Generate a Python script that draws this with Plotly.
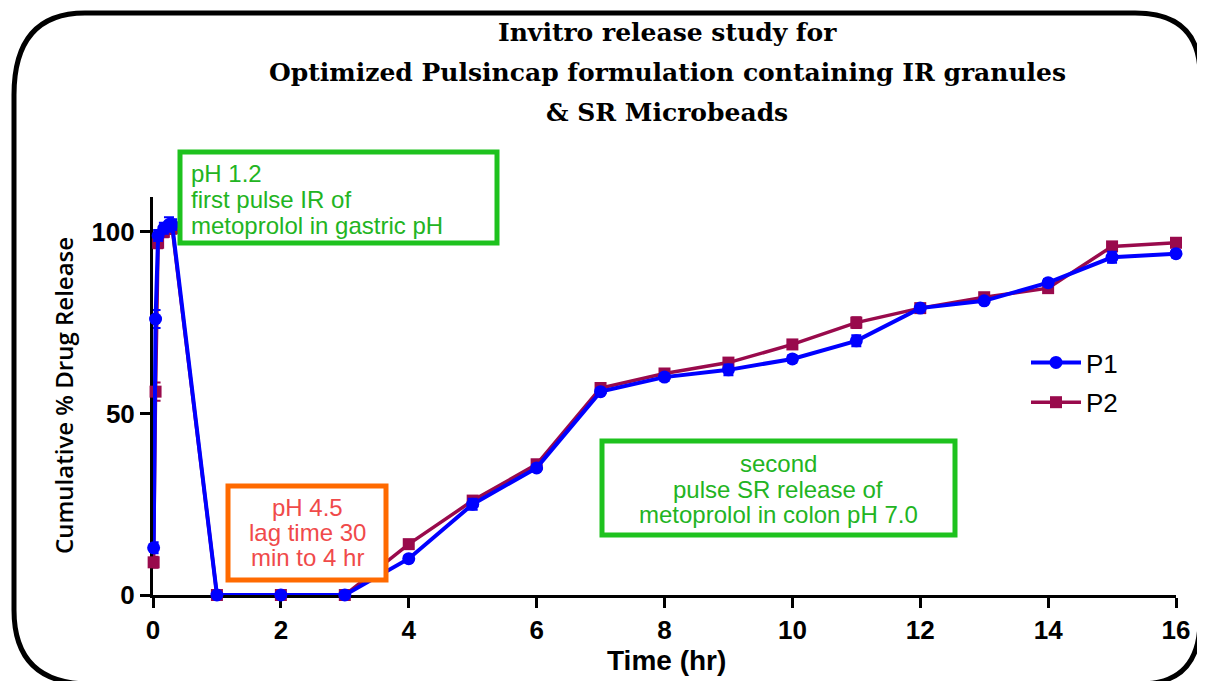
import plotly.graph_objects as go

# ---------------- data ----------------
time_hr = [0.01, 0.04, 0.08, 0.17, 0.25, 0.3, 1, 2, 3, 4, 5, 6, 7, 8, 9, 10, 11, 12, 13, 14, 15, 16]
p1_release = [13, 76, 99, 101, 102, 102, 0, 0, 0, 10, 25, 35, 56, 60, 62, 65, 70, 79, 81, 86, 93, 94]
p1_error = [1.5, 2.5, 1.5, 1.5, 2, 1.5, 0, 0, 0, 0.8, 1.5, 0.8, 0.8, 1, 1.5, 1, 1.5, 0.8, 0.8, 1, 1.5, 1]
p2_release = [9, 56, 97, 100, 101, 101, 0, 0, 0, 14, 26, 36, 57, 61, 64, 69, 75, 79, 82, 84.5, 96, 97]
p2_error = [1.5, 2.5, 1.5, 1.5, 1.5, 1.5, 0, 0, 0, 0.8, 0.8, 0.8, 0.8, 0.8, 0.8, 0.8, 1.5, 0.8, 0.8, 1, 0.8, 0.8]
series_names = ["P1", "P2"]
x_ticks = [0, 2, 4, 6, 8, 10, 12, 14, 16]
y_ticks = [0, 50, 100]
title_lines = ["Invitro release study for",
               "Optimized Pulsincap formulation containing IR granules",
               "& SR Microbeads"]
note_ir_lines = ["pH 1.2", "first pulse IR of", "metoprolol in gastric pH"]
note_lag_lines = ["pH 4.5", "lag time 30", "min to 4 hr"]
note_sr_lines = ["second", "pulse SR release of", "metoprolol in colon pH 7.0"]

# ---------------- layout helpers (page pixel -> paper) ----------------
W, H = 1205, 681
OFF = 8  # page body margin
L, T = 153 - OFF, 197 - OFF
R = W - (1176 - OFF)
B = H - (595 - OFF)


def px(x):
    return (x - OFF - L) / (W - L - R)


def py(y):
    return (H - B - (y - OFF)) / (H - T - B)


BLUE = "#0000ff"
MAROON = "#990a4c"
GREEN_LINE = "#1ec21e"
GREEN_TEXT = "#22b422"
ORANGE = "#ff6a00"
RED_TEXT = "#f04a4a"

fig = go.Figure()

fig.add_trace(go.Scatter(
    x=time_hr, y=p2_release, name=series_names[1], mode="lines+markers",
    line=dict(color=MAROON, width=3.5),
    marker=dict(symbol="square", size=12, color=MAROON),
    error_y=dict(type="data", array=p2_error, color=MAROON, thickness=2, width=5),
    cliponaxis=False, legendrank=2, legendgroup="b",
))
fig.add_trace(go.Scatter(
    x=time_hr, y=p1_release, name=series_names[0], mode="lines+markers",
    line=dict(color=BLUE, width=4),
    marker=dict(symbol="circle", size=13, color=BLUE),
    error_y=dict(type="data", array=p1_error, color=BLUE, thickness=2, width=5),
    cliponaxis=False, legendrank=1, legendgroup="a",
))

axis_font = dict(family="Liberation Sans, Arial", size=26, color="black", weight="bold")

fig.update_xaxes(
    range=[0, 16], tickvals=x_ticks, ticktext=[str(v) for v in x_ticks],
    showline=True, linecolor="black", linewidth=3,
    ticks="outside", ticklen=10, tickwidth=3, tickcolor="black",
    showgrid=False, zeroline=False, tickfont=axis_font, layer="below traces",
)
fig.update_yaxes(
    range=[0, 109.6], tickvals=y_ticks, ticktext=[str(v) for v in y_ticks],
    showline=True, linecolor="black", linewidth=3,
    ticks="outside", ticklen=10, tickwidth=3, tickcolor="black",
    showgrid=False, zeroline=False, tickfont=axis_font, layer="below traces",
)

shapes = []
# rounded outer frame
frame = (f"M {px(14)},{py(95)} Q {px(14)},{py(13)} {px(85)},{py(13)} "
         f"L {px(1135)},{py(13)} Q {px(1200)},{py(13)} {px(1200)},{py(75)} "
         f"L {px(1200)},{py(620)} Q {px(1200)},{py(684)} {px(1140)},{py(684)} "
         f"L {px(90)},{py(684)} Q {px(14)},{py(684)} {px(14)},{py(610)} Z")
shapes.append(dict(type="path", xref="paper", yref="paper", path=frame,
                   line=dict(color="black", width=5), layer="below"))
# annotation boxes
for (x0, y0, x1, y1, col) in [(180, 152, 497, 243, GREEN_LINE),
                              (228, 486, 386, 580, ORANGE),
                              (602, 441, 955, 535, GREEN_LINE)]:
    shapes.append(dict(type="rect", xref="paper", yref="paper",
                       x0=px(x0), x1=px(x1), y0=py(y1), y1=py(y0),
                       line=dict(color=col, width=5), fillcolor="white", layer="above"))

annotations = []
title_font = dict(family="DejaVu Serif", size=25, color="black", weight="bold")
for txt, yc in zip(title_lines, [32, 72, 113]):
    annotations.append(dict(text=txt, x=px(667), y=py(yc), xref="paper", yref="paper",
                            xanchor="center", yanchor="middle", showarrow=False, font=title_font))


def add_note(lines, xpos, anchor, ys, color):
    for txt, yc in zip(lines, ys):
        annotations.append(dict(text=txt, x=px(xpos), y=py(yc), xref="paper", yref="paper",
                                xanchor=anchor, yanchor="middle", showarrow=False,
                                font=dict(family="Liberation Sans, Arial", size=24, color=color)))


add_note(note_ir_lines, 189, "left", [173, 199, 225], GREEN_TEXT)
add_note(note_lag_lines, 307, "center", [507, 532, 557], RED_TEXT)
add_note(note_sr_lines, 778, "center", [463, 489, 514], GREEN_TEXT)

# axis titles
annotations.append(dict(text="Time (hr)", x=px(666), y=py(660), xref="paper", yref="paper",
                        xanchor="center", yanchor="middle", showarrow=False,
                        font=dict(family="Liberation Sans, Arial", size=28, color="black", weight="bold")))
annotations.append(dict(text="Cumulative % Drug Release", x=px(63), y=py(396), xref="paper", yref="paper",
                        xanchor="center", yanchor="middle", textangle=-90, showarrow=False,
                        font=dict(family="Open Sans", size=24, color="black", weight=600)))

fig.update_layout(
    width=W, height=H,
    margin=dict(l=L, r=R, t=T, b=B, autoexpand=False),
    paper_bgcolor="white", plot_bgcolor="white",
    shapes=shapes, annotations=annotations,
    showlegend=True,
    legend=dict(x=px(1026), y=py(339), xanchor="left", yanchor="top",
                font=dict(family="Liberation Sans, Arial", size=26, color="black"),
                bgcolor="rgba(0,0,0,0)", traceorder="grouped", tracegroupgap=3,
                itemwidth=50),
)

fig.write_html("out.html")
